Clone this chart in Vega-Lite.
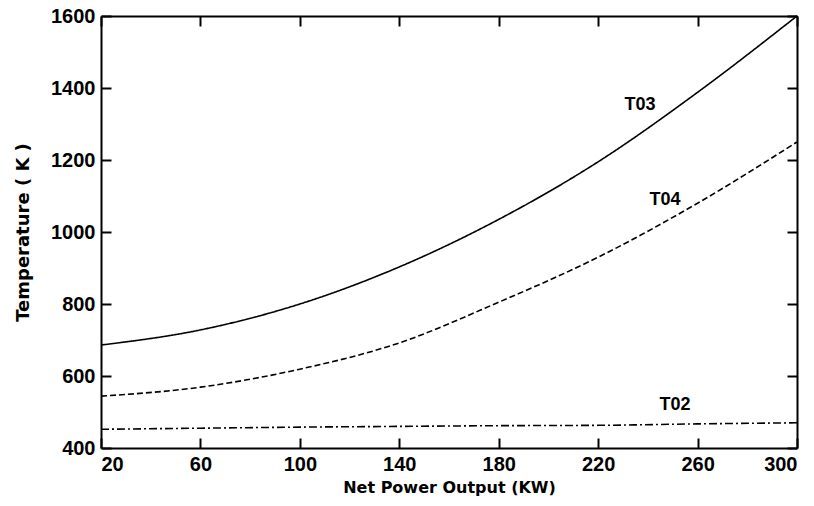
{
  "$schema": "https://vega.github.io/schema/vega-lite/v6.json",
  "width": 696,
  "height": 432,
  "autosize": {"type": "none"},
  "padding": {"left": 101, "top": 16, "right": 17, "bottom": 58},
  "background": "white",
  "config": {
    "view": {"stroke": null},
    "axis": {
      "grid": false,
      "domainColor": "black",
      "domainWidth": 2,
      "tickColor": "black",
      "tickWidth": 2,
      "labelColor": "black",
      "titleColor": "black",
      "labelFont": "Liberation Sans, Arial",
      "labelFontWeight": "bold",
      "labelFontSize": 20,
      "format": "d",
      "titleFont": "DejaVu Sans",
      "titleFontWeight": "bold",
      "titleFontSize": 16
    }
  },
  "datasets": {
    "curves": [
      {"power": 20, "temp": 686, "series": "T03"},
      {"power": 60, "temp": 728, "series": "T03"},
      {"power": 100, "temp": 800, "series": "T03"},
      {"power": 140, "temp": 903, "series": "T03"},
      {"power": 180, "temp": 1035, "series": "T03"},
      {"power": 220, "temp": 1195, "series": "T03"},
      {"power": 260, "temp": 1388, "series": "T03"},
      {"power": 300, "temp": 1600, "series": "T03"},
      {"power": 20, "temp": 544, "series": "T04"},
      {"power": 60, "temp": 569, "series": "T04"},
      {"power": 100, "temp": 619, "series": "T04"},
      {"power": 140, "temp": 692, "series": "T04"},
      {"power": 180, "temp": 805, "series": "T04"},
      {"power": 220, "temp": 930, "series": "T04"},
      {"power": 260, "temp": 1080, "series": "T04"},
      {"power": 300, "temp": 1250, "series": "T04"},
      {"power": 20, "temp": 452, "series": "T02"},
      {"power": 60, "temp": 455, "series": "T02"},
      {"power": 100, "temp": 458, "series": "T02"},
      {"power": 140, "temp": 460, "series": "T02"},
      {"power": 180, "temp": 462, "series": "T02"},
      {"power": 220, "temp": 463, "series": "T02"},
      {"power": 260, "temp": 467, "series": "T02"},
      {"power": 300, "temp": 470, "series": "T02"}
    ],
    "labels": [
      {"power": 236.8, "temp": 1353, "series": "T03"},
      {"power": 246.9, "temp": 1089, "series": "T04"},
      {"power": 250.9, "temp": 519, "series": "T02"}
    ]
  },
  "resolve": {"axis": {"x": "independent", "y": "independent"}},
  "layer": [
    {
      "data": {"name": "curves"},
      "mark": {"type": "line", "color": "black", "strokeWidth": 1.6, "interpolate": "monotone"},
      "encoding": {
        "x": {
          "field": "power", "type": "quantitative",
          "scale": {"domain": [20, 300], "nice": false, "zero": false},
          "axis": {"orient": "bottom", "values": [20, 60, 100, 140, 180, 220, 260, 300], "tickSize": -10, "labelPadding": 16, "title": "Net Power Output (KW)", "titlePadding": 5}
        },
        "y": {
          "field": "temp", "type": "quantitative",
          "scale": {"domain": [400, 1600], "nice": false, "zero": false},
          "axis": {"orient": "left", "values": [400, 600, 800, 1000, 1200, 1400, 1600], "tickSize": -10, "labelPadding": 16, "title": "Temperature ( K )", "titleFontSize": 18, "titlePadding": 18}
        },
        "strokeDash": {
          "field": "series", "type": "nominal",
          "scale": {"domain": ["T03", "T04", "T02"], "range": [[1, 0], [6, 3], [8, 3, 2, 3]]},
          "legend": null
        }
      }
    },
    {
      "data": {"name": "labels"},
      "mark": {"type": "text", "font": "Liberation Sans, Arial", "fontWeight": "bold", "fontSize": 18, "color": "black"},
      "encoding": {
        "x": {"field": "power", "type": "quantitative", "axis": {"orient": "top", "values": [20, 60, 100, 140, 180, 220, 260, 300], "tickSize": -10, "labels": false, "title": null}},
        "y": {"field": "temp", "type": "quantitative", "axis": {"orient": "right", "values": [400, 600, 800, 1000, 1200, 1400, 1600], "tickSize": -10, "labels": false, "title": null}},
        "text": {"field": "series"}
      }
    }
  ]
}
